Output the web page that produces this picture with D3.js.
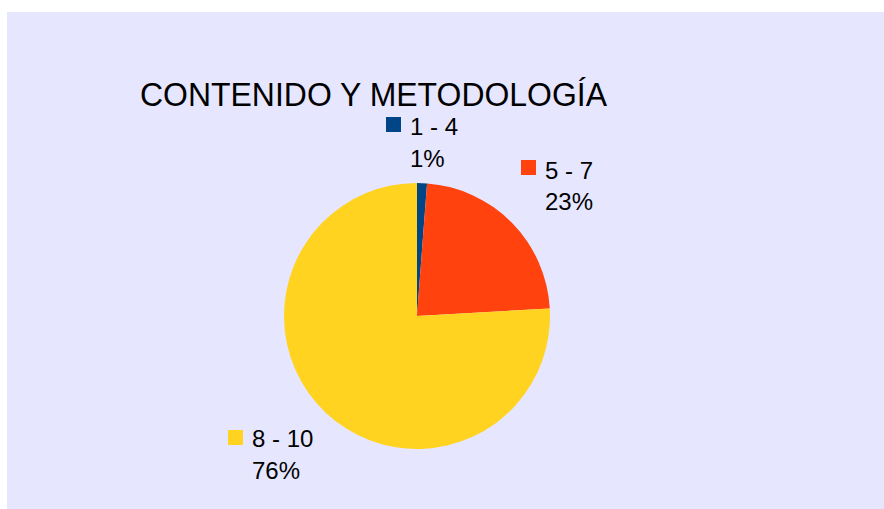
<!DOCTYPE html>
<html>
<head>
<meta charset="utf-8">
<script src="https://cdn.jsdelivr.net/npm/d3@7"></script>
<style>
  html, body { margin: 0; padding: 0; background: #ffffff; }
  svg { display: block; }
  text { font-family: "Liberation Sans", Arial, sans-serif; fill: #000; }
</style>
</head>
<body>
<svg id="chart" width="884" height="509"></svg>
<script>
const title = "CONTENIDO Y METODOLOGÍA";
const categories = ["1 - 4", "5 - 7", "8 - 10"];
const values = [1, 19, 63];
const percentLabels = ["1%", "23%", "76%"];
const colors = ["#004586", "#FF420E", "#FFD320"];

const svg = d3.select("#chart");
svg.append("rect").attr("x", 7).attr("y", 12).attr("width", 877).attr("height", 497).attr("fill", "#E6E6FF");

svg.append("text")
  .attr("x", 140).attr("y", 106)
  .attr("font-size", 34)
  .attr("textLength", 467)
  .attr("lengthAdjust", "spacingAndGlyphs")
  .text(title);

const cx = 417, cy = 316, r = 133;
const pie = d3.pie().sort(null).value(d => d)(values);
const arc = d3.arc().innerRadius(0).outerRadius(r);
const g = svg.append("g").attr("transform", `translate(${cx},${cy})`);
g.selectAll("path").data(pie).join("path")
  .attr("d", arc)
  .attr("fill", (d, i) => colors[i]);

const labelPos = [
  { sx: 386, sy: 117, tx: 410, ty: 135, py: 167 },
  { sx: 521, sy: 160, tx: 545, ty: 179, py: 210 },
  { sx: 228, sy: 430, tx: 252, ty: 447, py: 479 }
];
const lg = svg.append("g");
categories.forEach((c, i) => {
  const p = labelPos[i];
  lg.append("rect").attr("x", p.sx).attr("y", p.sy).attr("width", 15).attr("height", 15).attr("fill", colors[i]);
  lg.append("text").attr("x", p.tx).attr("y", p.ty).attr("font-size", 24).text(c);
  lg.append("text").attr("x", p.tx).attr("y", p.py).attr("font-size", 24).text(percentLabels[i]);
});
</script>
</body>
</html>
